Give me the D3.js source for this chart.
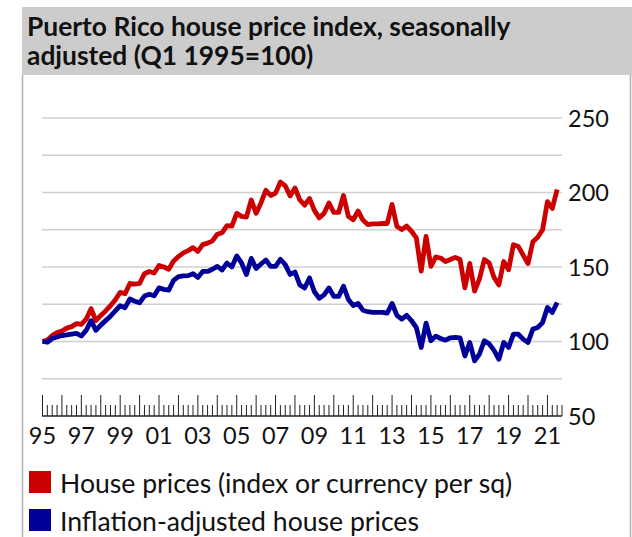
<!DOCTYPE html>
<html><head><meta charset="utf-8">
<script src="https://cdn.jsdelivr.net/npm/d3@7"></script>
<style>body{margin:0;background:#fff}svg{display:block;font-family:Lato,sans-serif}</style>
</head><body><svg id="c" width="632" height="537"></svg>
<script>
const titleLines = ["Puerto Rico house price index, seasonally", "adjusted (Q1 1995=100)"];
const startYear = 1995;
const nominal = [100,101,104,106,107,109,110,112,111.5,115,122,114,117.5,120.5,124,128,133,132,139,138.5,139,145.5,147,146,151,150,148.5,154,157,159.5,161,163,160.5,165,166,167.5,172,173,177.7,177.5,186,184,183.5,195,186,193,201.5,198,199.6,207,204.5,197.7,203,195,191.5,196,188,183,186,193,186.6,186.6,198,184,181.7,187.6,181.5,178.5,179,179,179.2,179.2,192,177.2,175.1,177.5,174,169.5,147.2,170.6,150.4,156.7,156,153.7,155,156.5,155,136,152.4,133.8,142,155,152.7,143,138,153.7,148.2,165,163.8,158,152.4,167,170,175,193.8,189.3,202];
const real = [100,99.5,102,103,104,104.5,105,105.5,103.7,107.5,114,107.5,111,114,117,120.5,124,122.7,128.5,127,126,130.5,131.7,130.7,136,135,134.5,141,143.5,144,144.2,145.5,143,147,147,148.5,150.4,148,152.7,150,157.4,152.7,145,155.8,149,152,154.7,150.4,150.4,155.2,151.6,145,146.6,138,135.9,142.6,133.4,129,131.3,135.9,130.3,130.3,137.1,128.2,124.2,125.5,121,120,119.5,119.5,119.5,119,125.5,117.6,115,117.6,114,109.4,96,112.3,100.5,103.6,102,100.9,102.5,102.7,102.5,90.3,99.4,87,91.6,100.5,98.4,94,88.1,99.4,96,104.9,104.9,101.6,99.4,108.3,109.4,112.7,122.8,119.5,126.2];
const yTicks = [50,100,150,200,250];
const gridTicks = [75,100,125,150,175,200,225,250];
const xLabelYears = [1995,1997,1999,2001,2003,2005,2007,2009,2011,2013,2015,2017,2019,2021];
const seriesNames = ["House prices (index or currency per sq)", "Inflation-adjusted house prices"];
const colors = ["#cc0000", "#000099"];

const svg = d3.select("#c");
// frame
svg.append("rect").attr("x",22).attr("y",7).attr("width",610).attr("height",68).attr("fill","#cccccc");
svg.append("line").attr("x1",22.5).attr("x2",22.5).attr("y1",75).attr("y2",537).attr("stroke","#b0b0b0").attr("stroke-width",1.5);
svg.append("line").attr("x1",630.5).attr("x2",630.5).attr("y1",75).attr("y2",537).attr("stroke","#b0b0b0").attr("stroke-width",1.5);
titleLines.forEach((t,i)=>svg.append("text").attr("x",27).attr("y",36+i*29).attr("font-size",26.4).attr("font-weight",700).attr("fill","#111").text(t));

const x = d3.scaleLinear().domain([1995, 2021.75]).range([42.5, 562]);
const y = d3.scaleLinear().domain([50, 250]).range([416, 118]);

// gridlines
svg.append("g").selectAll("line").data(gridTicks).join("line")
  .attr("x1",42).attr("x2",562).attr("y1",d=>y(d)).attr("y2",d=>y(d))
  .attr("stroke","#d0d0d0").attr("stroke-width",1.5);

// y labels
svg.append("g").selectAll("text").data(yTicks).join("text")
  .attr("x",568).attr("y",d=>y(d)+3).attr("dominant-baseline","middle")
  .attr("font-size",23.5).attr("fill","#111").text(d=>d);

// x axis ticks
const quarters = d3.range(0, 27*4).map(i=>startYear+i/4).filter(v=>v<=2021.75);
const gx = svg.append("g");
gx.selectAll("line").data(quarters).join("line")
  .attr("x1",d=>x(d)).attr("x2",d=>x(d))
  .attr("y1",y(50)).attr("y2",d=>Math.abs(d-Math.round(d))<1e-6 ? y(50)-21 : y(50)-11)
  .attr("stroke","#222").attr("stroke-width",1);
gx.append("line").attr("x1",42).attr("x2",562).attr("y1",y(50)).attr("y2",y(50)).attr("stroke","#222").attr("stroke-width",1.5);
gx.selectAll("text").data(xLabelYears).join("text")
  .attr("x",d=>x(d)).attr("y",444).attr("text-anchor","middle")
  .attr("font-size",23.5).attr("fill","#111").text(d=>String(d%100).padStart(2,"0"));

// lines
const line = d3.line().x((d,i)=>x(startYear+i/4)).y(d=>y(d)).curve(d3.curveLinear);
[nominal, real].forEach((s,k)=>{
  svg.append("path").datum(s).attr("d",line).attr("fill","none")
    .attr("stroke",colors[k]).attr("stroke-width",4.8).attr("stroke-linejoin","round").attr("stroke-linecap","butt");
});

// legend
seriesNames.forEach((n,i)=>{
  svg.append("rect").attr("x",29).attr("y",471+i*38).attr("width",22).attr("height",22).attr("fill",colors[i]);
  svg.append("text").attr("x",60).attr("y",493+i*38).attr("font-size",26.6).attr("fill","#111").text(n);
});
</script></body></html>
